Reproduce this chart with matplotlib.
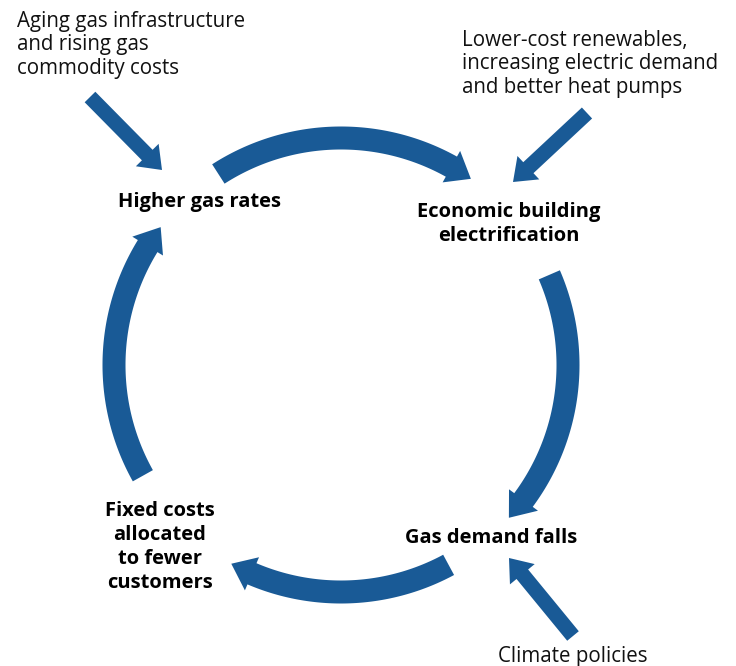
import numpy as np
import matplotlib
matplotlib.use("Agg")
import matplotlib.pyplot as plt
from matplotlib.patches import Polygon, FancyArrow

# --- content -------------------------------------------------------------
cycle_labels = [
    ["Higher gas rates"],
    ["Economic building", "electrification"],
    ["Gas demand falls"],
    ["Fixed costs", "allocated", "to fewer", "customers"],
]
driver_labels = [
    ["Aging gas infrastructure", "and rising gas", "commodity costs"],
    ["Lower-cost renewables,", "increasing electric demand", "and better heat pumps"],
    ["Climate policies"],
]

# --- layout (pixel space, y down) -----------------------------------------
W, H = 736, 666
BLUE = "#195a96"
center = (341, 365)
radius = 227
arc_tail_deg = [122.7, 23.4, -61.7, 209.2]     # arcs run clockwise tail -> tip
arc_tip_deg = [55.1, -42.3, -118.9, 142.6]
arc_w, arc_head_w, arc_head_len = 23, 36, 23

cycle_pos = [(200, 207), (509, 217), (491, 543), (160, 516)]   # first baseline
driver_text_pos = [(17, 27, "left"), (462, 46, "left"), (573, 662, "center")]
driver_arrows = [((90, 97), (162, 170)), ((587, 113), (513, 182)), ((573, 636), (509, 558))]
line_gap = 24

fig = plt.figure(figsize=(W / 100, H / 100), dpi=100)
ax = fig.add_axes([0, 0, 1, 1])
ax.set_xlim(0, W)
ax.set_ylim(H, 0)
ax.set_aspect("equal")
ax.axis("off")


def pt(theta_deg, r):
    t = np.radians(theta_deg)
    return center[0] + r * np.cos(t), center[1] - r * np.sin(t)


def arc_arrow(t0, t1):
    head = np.degrees(arc_head_len / radius)
    tb = t1 + head
    ts = np.linspace(t0, tb, 80)
    outer = [pt(t, radius + arc_w / 2) for t in ts]
    inner = [pt(t, radius - arc_w / 2) for t in ts[::-1]]
    tip = [pt(tb, radius - arc_head_w / 2), pt(t1, radius), pt(tb, radius + arc_head_w / 2)]
    # order: outer edge -> head -> inner edge back
    poly = outer + [tip[2], tip[1], tip[0]] + inner
    ax.add_patch(Polygon(poly, closed=True, fc=BLUE, ec="none"))


for t0, t1 in zip(arc_tail_deg, arc_tip_deg):
    arc_arrow(t0, t1)

for (x0, y0), (x1, y1) in driver_arrows:
    ax.add_patch(FancyArrow(x0, y0, x1 - x0, y1 - y0, width=15, head_width=32,
                            head_length=21, length_includes_head=True,
                            fc=BLUE, ec="none"))

FONT = "Open Sans"
for lines, (x, y) in zip(cycle_labels, cycle_pos):
    for i, s in enumerate(lines):
        ax.text(x, y + i * line_gap, s, ha="center", va="baseline",
                fontsize=14.5, fontweight="bold", family=FONT, color="black")

for lines, (x, y, ha) in zip(driver_labels, driver_text_pos):
    for i, s in enumerate(lines):
        ax.text(x, y + i * 23.3, s, ha=ha, va="baseline",
                fontsize=14.8, family=FONT, color="#111111")

fig.savefig("out.png", dpi=100)
